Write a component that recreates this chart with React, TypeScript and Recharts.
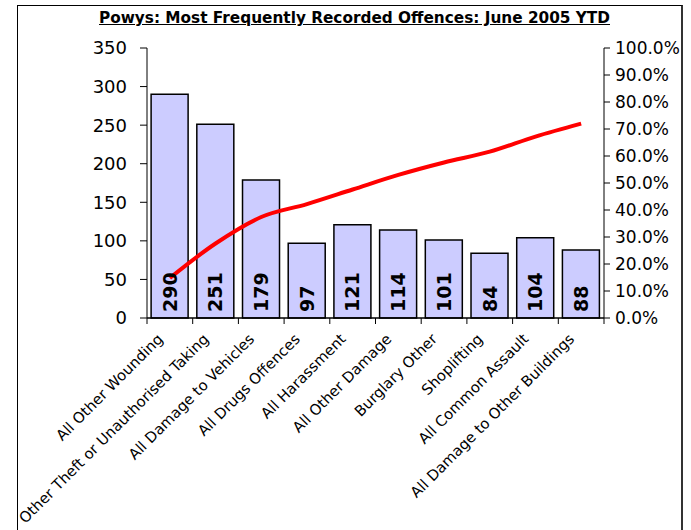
import React from "react";
import { ComposedChart, Bar, Line, XAxis, YAxis, LabelList } from "recharts";

const categories = [
  "All Other Wounding",
  "Other Theft or Unauthorised Taking",
  "All Damage to Vehicles",
  "All Drugs Offences",
  "All Harassment",
  "All Other Damage",
  "Burglary Other",
  "Shoplifting",
  "All Common Assault",
  "All Damage to Other Buildings",
];
const counts = [290, 251, 179, 97, 121, 114, 101, 84, 104, 88];
const cumulativePct = [14.8, 27.6, 37.4, 42.2, 47.6, 53.0, 57.6, 61.6, 67.2, 72.0];
const leftTicks = [0, 50, 100, 150, 200, 250, 300, 350];
const rightTicks = [0, 10, 20, 30, 40, 50, 60, 70, 80, 90, 100];

const data = categories.map((name, i) => ({
  name,
  count: counts[i],
  pct: cumulativePct[i],
}));

const FONT = "'DejaVu Sans', Verdana, sans-serif";

function CategoryTick(props: any) {
  const { x, y, payload, index, visibleTicksCount, width } = props;
  const band = (width ?? 457) / (visibleTicksCount ?? 10);
  const left = x - band / 2;
  const isLast = index === (visibleTicksCount ?? 10) - 1;
  const tx = x - 6;
  const ty = y + 22;
  return (
    <g>
      <line x1={left} x2={left} y1={y} y2={y + 6} stroke="#000" strokeWidth={1} />
      {isLast && (
        <line x1={left + band} x2={left + band} y1={y} y2={y + 6} stroke="#000" strokeWidth={1} />
      )}
      <text
        x={tx}
        y={ty}
        transform={`rotate(-45 ${tx} ${ty})`}
        textAnchor="end"
        fontFamily={FONT}
        fontSize={14.8}
        fill="#000"
      >
        {payload.value}
      </text>
    </g>
  );
}

function BarValue(props: any) {
  const { x, y, width, height, value } = props;
  const cx = x + width / 2;
  const by = y + height - 6;
  return (
    <text
      x={cx}
      y={by}
      transform={`rotate(-90 ${cx} ${by})`}
      textAnchor="start"
      dominantBaseline="central"
      fontFamily={FONT}
      fontWeight="bold"
      fontSize={19}
      fill="#000"
    >
      {value}
    </text>
  );
}

export default function App() {
  return (
    <div style={{ position: "absolute", left: 0, top: 0, width: 691, height: 530, background: "#fff" }}>
      <div
        style={{
          position: "absolute",
          left: 17,
          top: 5,
          width: 666,
          height: 530,
          borderTop: "1px solid #000",
          borderLeft: "1.5px solid #000",
          borderRight: "2px solid #333",
          boxSizing: "border-box",
        }}
      />
      <div
        style={{
          position: "absolute",
          left: 0,
          top: 9,
          width: 709,
          textAlign: "center",
          fontFamily: FONT,
          fontWeight: "bold",
          fontSize: 15.3,
          textDecoration: "underline",
          color: "#000",
        }}
      >
        Powys: Most Frequently Recorded Offences: June 2005 YTD
      </div>
      <ComposedChart
        width={691}
        height={530}
        data={data}
        margin={{ top: 48, right: 27, bottom: 22, left: 87 }}
        barCategoryGap="9%"
        style={{ position: "absolute", left: 0, top: 0 }}
      >
        <XAxis
          dataKey="name"
          interval={0}
          height={190}
          tickSize={0}
          tickMargin={0}
          tickLine={false}
          axisLine={{ stroke: "#000", strokeWidth: 1.5 }}
          tick={<CategoryTick />}
        />
        <YAxis
          yAxisId="left"
          domain={[0, 350]}
          ticks={leftTicks}
          width={60}
          tickSize={7}
          tickMargin={13}
          axisLine={{ stroke: "#000" }}
          tickLine={{ stroke: "#000" }}
          tick={{ fontFamily: FONT, fontSize: 18, fill: "#000" }}
        />
        <YAxis
          yAxisId="right"
          orientation="right"
          domain={[0, 100]}
          ticks={rightTicks}
          width={60}
          tickSize={6}
          tickMargin={5}
          axisLine={{ stroke: "#000" }}
          tickLine={{ stroke: "#000" }}
          tickFormatter={(v: number) => `${v.toFixed(1)}%`}
          tick={{ fontFamily: FONT, fontSize: 17, fill: "#000", textAnchor: "start" }}
        />
        <Bar
          yAxisId="left"
          dataKey="count"
          fill="#CCCCFF"
          stroke="#000"
          strokeWidth={1.5}
          isAnimationActive={false}
        >
          <LabelList dataKey="count" content={<BarValue />} />
        </Bar>
        <Line
          yAxisId="right"
          dataKey="pct"
          type="monotone"
          stroke="#FF0000"
          strokeWidth={4}
          dot={false}
          isAnimationActive={false}
        />
      </ComposedChart>
    </div>
  );
}
